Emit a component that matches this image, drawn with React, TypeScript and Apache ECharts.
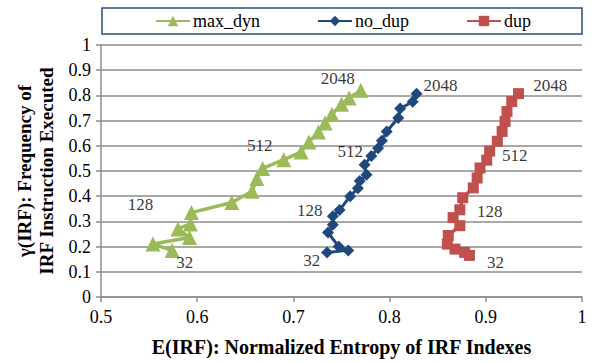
import React, { useEffect, useRef } from "react";
import * as echarts from "echarts";

const maxDynX = [0.574, 0.554, 0.592, 0.58, 0.593, 0.594, 0.636, 0.657, 0.662, 0.668, 0.69, 0.708, 0.716, 0.726, 0.733, 0.74, 0.75, 0.758, 0.77];
const maxDynY = [0.185, 0.21, 0.236, 0.27, 0.29, 0.335, 0.375, 0.42, 0.47, 0.51, 0.545, 0.575, 0.615, 0.655, 0.69, 0.725, 0.765, 0.79, 0.82];

const noDupX = [0.735, 0.757, 0.747, 0.736, 0.741, 0.741, 0.748, 0.759, 0.767, 0.769, 0.776, 0.774, 0.781, 0.788, 0.792, 0.797, 0.809, 0.811, 0.824, 0.828];
const noDupY = [0.177, 0.185, 0.2, 0.256, 0.287, 0.32, 0.345, 0.4, 0.432, 0.46, 0.485, 0.525, 0.56, 0.59, 0.62, 0.657, 0.71, 0.748, 0.775, 0.807];

const dupX = [0.883, 0.878, 0.868, 0.86, 0.861, 0.873, 0.866, 0.873, 0.876, 0.887, 0.891, 0.894, 0.901, 0.904, 0.912, 0.917, 0.92, 0.922, 0.927, 0.934];
const dupY = [0.165, 0.177, 0.19, 0.21, 0.244, 0.283, 0.315, 0.346, 0.394, 0.433, 0.472, 0.512, 0.543, 0.579, 0.618, 0.657, 0.697, 0.736, 0.776, 0.807];

const sizeLabels = ["32", "128", "512", "2048"];
const maxDynLabelX = [0.587, 0.541, 0.665, 0.746];
const maxDynLabelY = [0.138, 0.366, 0.602, 0.866];
const noDupLabelX = [0.719, 0.717, 0.759, 0.853];
const noDupLabelY = [0.146, 0.343, 0.579, 0.839];
const dupLabelX = [0.91, 0.904, 0.93, 0.967];
const dupLabelY = [0.138, 0.339, 0.563, 0.839];

const xTicks = [0.5, 0.6, 0.7, 0.8, 0.9, 1];

const zip = (xs: number[], ys: number[]) => xs.map((x, i) => [x, ys[i]]);

const FONT = "Liberation Serif";

export default function App() {
  const ref = useRef<HTMLDivElement>(null);
  useEffect(() => {
    if (!ref.current) return;
    const chart = echarts.init(ref.current, undefined, { renderer: "svg" });
    const labelSeries = (xs: number[], ys: number[]) => ({
      type: "scatter",
      symbolSize: 0,
      silent: true,
      legendHoverLink: false,
      data: xs.map((x, i) => ({ value: [x, ys[i]], name: sizeLabels[i] })),
      label: {
        show: true,
        position: "inside",
        formatter: (p: any) => p.name,
        color: "#000",
        fontFamily: FONT,
        fontSize: 17,
      },
      z: 5,
    });
    chart.setOption({
      animation: false,
      textStyle: { fontFamily: FONT },
      graphic: [
        {
          type: "rect",
          shape: { x: 102, y: 8, width: 480, height: 26 },
          style: { fill: "#fff", stroke: "#2a4f80", lineWidth: 1.5 },
          z: -1,
        },
      ],
      legend: {
        top: 12,
        left: 155,
        padding: 0,
        itemGap: 57,
        itemWidth: 34,
        itemHeight: 13,
        textStyle: { fontFamily: FONT, fontSize: 18, color: "#000", padding: [0, 0, 0, -2] },
        data: ["max_dyn", "no_dup", "dup"],
      },
      grid: { left: 101, right: 13, top: 45, bottom: 62 },
      xAxis: {
        type: "value",
        min: 0.5,
        max: 1,
        interval: 0.1,
        name: "E(IRF): Normalized Entropy of IRF Indexes",
        nameLocation: "middle",
        nameGap: 40,
        nameTextStyle: { fontFamily: FONT, fontSize: 20, fontWeight: "bold", color: "#000" },
        axisLine: { show: true, lineStyle: { color: "#8c8c8c", width: 1.5 } },
        axisTick: { show: true, length: 5, lineStyle: { color: "#8c8c8c", width: 1.5 } },
        axisLabel: {
          fontFamily: FONT,
          fontSize: 18,
          color: "#000",
          margin: 11,
          formatter: (v: number) => {
            const t = xTicks.find((k) => Math.abs(k - v) < 1e-6);
            return t === undefined ? "" : String(t);
          },
        },
        splitLine: { show: false },
      },
      yAxis: {
        type: "value",
        min: 0,
        max: 1,
        interval: 0.1,
        name: "γ(IRF): Frequency of\nIRF Instruction Executed",
        nameLocation: "middle",
        nameGap: 33,
        nameTextStyle: { fontFamily: FONT, fontSize: 19, fontWeight: "bold", color: "#000", lineHeight: 22 },
        axisLine: { show: true, lineStyle: { color: "#8c8c8c", width: 1.5 } },
        axisTick: { show: true, length: 5, lineStyle: { color: "#8c8c8c", width: 1.5 } },
        axisLabel: {
          fontFamily: FONT,
          fontSize: 18,
          color: "#000",
          margin: 10,
          formatter: (v: number) => String(Math.round(v * 10) / 10),
        },
        splitLine: { show: true, lineStyle: { color: "#8c8c8c", width: 1.5 } },
      },
      series: [
        {
          name: "max_dyn",
          type: "line",
          data: zip(maxDynX, maxDynY),
          symbol: "triangle",
          symbolSize: 15,
          lineStyle: { color: "#9bbb59", width: 3.5 },
          itemStyle: { color: "#9bbb59" },
          z: 3,
        },
        {
          name: "no_dup",
          type: "line",
          data: zip(noDupX, noDupY),
          symbol: "diamond",
          symbolSize: 12,
          lineStyle: { color: "#1f497d", width: 3 },
          itemStyle: { color: "#1f497d" },
          z: 3,
        },
        {
          name: "dup",
          type: "line",
          data: zip(dupX, dupY),
          symbol: "rect",
          symbolSize: 11,
          lineStyle: { color: "#c0504d", width: 3.5 },
          itemStyle: { color: "#c0504d" },
          z: 3,
        },
        labelSeries(maxDynLabelX, maxDynLabelY),
        labelSeries(noDupLabelX, noDupLabelY),
        labelSeries(dupLabelX, dupLabelY),
      ],
    });
    return () => chart.dispose();
  }, []);
  return <div ref={ref} style={{ width: 595, height: 362, position: "absolute", left: 0, top: 0, background: "#fff" }} />;
}
